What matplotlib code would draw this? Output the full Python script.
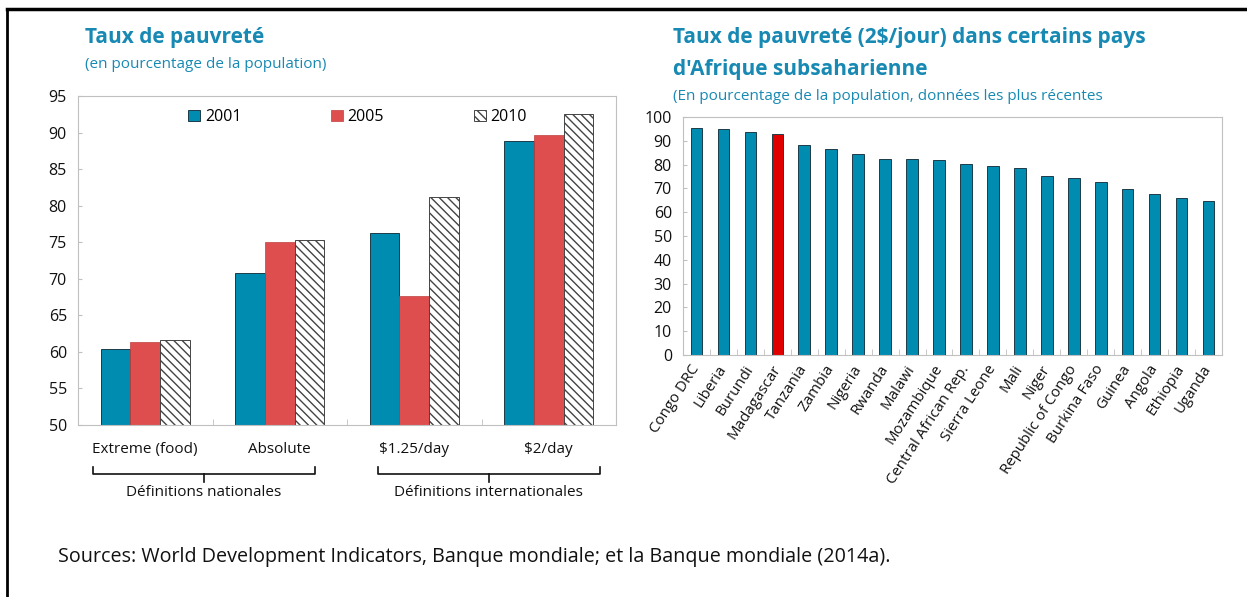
import matplotlib
matplotlib.use("Agg")
import matplotlib.pyplot as plt
import matplotlib.transforms as mtransforms
import numpy as np

plt.rcParams['font.family'] = ['Open Sans', 'DejaVu Sans']
plt.rcParams['hatch.linewidth'] = 1.0

# left chart data
categories = ["Extreme (food)", "Absolute", "$1.25/day", "$2/day"]
years = ["2001", "2005", "2010"]
rate_2001 = [60.4, 70.8, 76.3, 88.9]
rate_2005 = [61.3, 75.0, 67.7, 89.6]
rate_2010 = [61.6, 75.3, 81.2, 92.6]
groups = ["Définitions nationales", "Définitions internationales"]

# right chart data
countries = ["Congo DRC", "Liberia", "Burundi", "Madagascar", "Tanzania", "Zambia",
             "Nigeria", "Rwanda", "Malawi", "Mozambique", "Central African Rep.",
             "Sierra Leone", "Mali", "Niger", "Republic of Congo", "Burkina Faso",
             "Guinea", "Angola", "Ethiopia", "Uganda"]
rate_2usd = [95.4, 94.9, 93.6, 92.8, 88.1, 86.7, 84.6, 82.4, 82.4, 81.8,
             80.3, 79.6, 78.5, 75.4, 74.4, 72.7, 69.8, 67.6, 66.0, 64.8]

teal = "#008bb0"
red = "#de4e4e"
title_col = "#1789b3"
frame_col = "#c0c0c0"
W, H = 1247, 597


def px_axes(x0, y0, x1, y1):
    return fig.add_axes([x0 / W, 1 - y1 / H, (x1 - x0) / W, (y1 - y0) / H])


fig = plt.figure(figsize=(W / 100, H / 100), dpi=100)

# border lines (left and top)
fig.add_artist(plt.Line2D([7 / W, 7 / W], [0, 1 - 9 / H], color="black", lw=2, transform=fig.transFigure))
fig.add_artist(plt.Line2D([7 / W, 1], [1 - 9 / H, 1 - 9 / H], color="black", lw=2.5, transform=fig.transFigure))

# ---- left chart
ax1 = px_axes(78, 96, 616, 425)
x = np.arange(len(categories))
w = 0.22
ax1.bar(x - w, [v - 50 for v in rate_2001], w, bottom=50, color=teal, edgecolor="#1d3b48", lw=0.7, label=years[0])
ax1.bar(x, [v - 50 for v in rate_2005], w, bottom=50, color=red, edgecolor="#c04040", lw=0.5, label=years[1])
ax1.bar(x + w, [v - 50 for v in rate_2010], w, bottom=50, color="white", edgecolor="#444444", lw=0.7,
        hatch="\\\\\\\\", label=years[2])
ax1.set_xlim(-0.5, 3.5)
ax1.set_ylim(50, 95)
ax1.set_yticks(np.arange(50, 96, 5))
ax1.set_xticks(x)
ax1.set_xticklabels(categories, fontsize=11, color="#111111")
ax1.set_xticks(np.arange(0.5, 3, 1), minor=True)
ax1.tick_params(axis="x", which="major", length=0, pad=12)
ax1.tick_params(axis="x", which="minor", direction="in", length=4, color=frame_col)
ax1.tick_params(axis="y", direction="in", length=3, color=frame_col, labelsize=11.5, labelcolor="#111111", pad=8)
for s in ax1.spines.values():
    s.set_color(frame_col)
leg = ax1.legend(loc="upper left", bbox_to_anchor=(0.19, 0.985), ncol=3, frameon=False, fontsize=11.5,
                 handlelength=0.75, handleheight=0.75, handletextpad=0.3, columnspacing=5.6, borderpad=0)

# braces under the category labels
trans = mtransforms.blended_transform_factory(ax1.transData, ax1.transAxes)
for (a, b), name in zip([(-0.39, 1.26), (1.73, 3.38)], groups):
    mid = (a + b) / 2
    ax1.plot([a, a, b, b], [-0.128, -0.150, -0.150, -0.128], color="#111111", lw=1.2,
             transform=trans, clip_on=False)
    ax1.plot([mid, mid], [-0.150, -0.172], color="#111111", lw=1.2, transform=trans, clip_on=False)
    ax1.text(mid, -0.205, name, transform=trans, ha="center", va="center", fontsize=11, color="#111111")

fig.text(85 / W, 1 - 38 / H, "Taux de pauvreté", fontsize=15, fontweight="bold", color=title_col, va="center")
fig.text(85 / W, 1 - 65 / H, "(en pourcentage de la population)", fontsize=11, color=title_col, va="center")

# ---- right chart
ax2 = px_axes(683, 117, 1222, 355)
xc = np.arange(len(countries))
colors = [teal] * len(countries)
colors[countries.index("Madagascar")] = "#e00000"
ax2.bar(xc, rate_2usd, 0.43, color=colors, edgecolor="#1d3b48", lw=0.7)
ax2.set_xlim(-0.5, len(countries) - 0.5)
ax2.set_ylim(0, 100)
ax2.set_yticks(np.arange(0, 101, 10))
ax2.set_xticks(xc)
ax2.set_xticklabels(countries, rotation=57, ha="right", va="center", rotation_mode="anchor",
                    fontsize=10.8, color="#111111")
ax2.set_xticks(np.arange(0.5, len(countries) - 1, 1), minor=True)
ax2.tick_params(axis="x", which="major", length=0, pad=8)
ax2.tick_params(axis="x", which="minor", direction="in", length=4, color=frame_col)
ax2.tick_params(axis="y", direction="in", length=3, color=frame_col, labelsize=11.5, labelcolor="#111111", pad=8)
for s in ax2.spines.values():
    s.set_color(frame_col)

fig.text(673 / W, 1 - 38 / H, "Taux de pauvreté (2$/jour) dans certains pays", fontsize=15,
         fontweight="bold", color=title_col, va="center")
fig.text(673 / W, 1 - 70 / H, "d'Afrique subsaharienne", fontsize=15, fontweight="bold", color=title_col, va="center")
fig.text(673 / W, 1 - 97 / H, "(En pourcentage de la population, données les plus récentes", fontsize=11,
         color=title_col, va="center")

fig.text(58 / W, 1 - 557 / H, "Sources: World Development Indicators, Banque mondiale; et la Banque mondiale (2014a).",
         fontsize=14.2, color="#111111", va="center")

fig.savefig("out.png", dpi=100)
